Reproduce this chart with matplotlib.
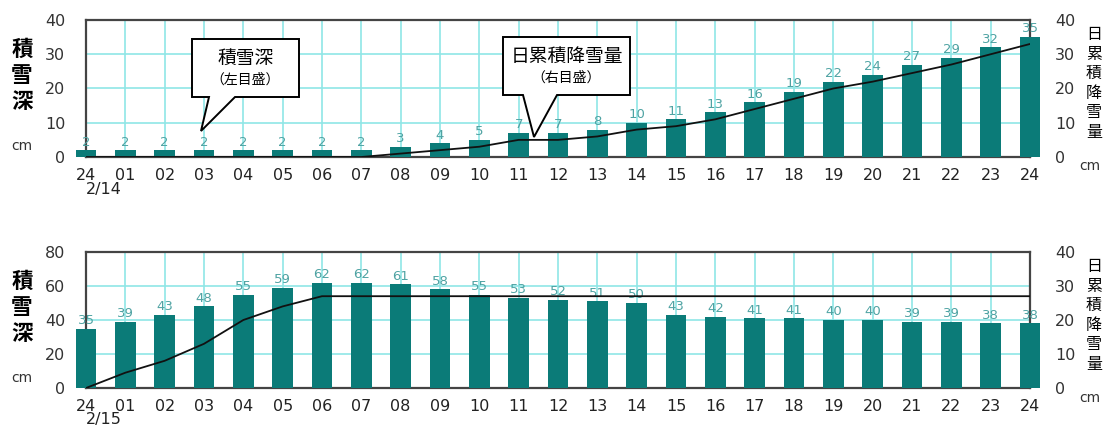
import matplotlib.pyplot as plt
from matplotlib.patches import Polygon
import numpy as np

plt.rcParams['font.family'] = ['DejaVu Sans']
JP = ['Noto Sans CJK JP', 'DejaVu Sans']

# hours shown on the x axis
hours = ['24', '01', '02', '03', '04', '05', '06', '07', '08', '09', '10', '11', '12',
         '13', '14', '15', '16', '17', '18', '19', '20', '21', '22', '23', '24']

# 2/14 snow depth (cm, left scale) and daily cumulative snowfall (cm, right scale)
depth_14 = [2, 2, 2, 2, 2, 2, 2, 2, 3, 4, 5, 7, 7, 8, 10, 11, 13, 16, 19, 22, 24, 27, 29, 32, 35]
snowfall_14 = [0, 0, 0, 0, 0, 0, 0, 0, 1, 2, 3, 5, 5, 6, 8, 9, 11, 14, 17, 20, 22, 24.5, 27, 30, 33]

# 2/15
depth_15 = [35, 39, 43, 48, 55, 59, 62, 62, 61, 58, 55, 53, 52, 51, 50, 43, 42, 41, 41, 40, 40, 39, 39, 38, 38]
snowfall_15 = [0, 4.5, 8, 13, 20, 24, 27, 27, 27, 27, 27, 27, 27, 27, 27, 27, 27, 27, 27, 27, 27, 27, 27, 27, 27]

dates = ['2/14', '2/15']
left_max = [40, 80]
right_max = [40, 40]

BAR = '#0b7b78'
LABEL = '#4fa3a3'
GRID = '#8fe6e6'
SPINE = '#444444'
TXT = '#333333'

W, H = 1104, 429
fig = plt.figure(figsize=(W / 100, H / 100), dpi=100)

# axes boxes in pixels: left, top, right, bottom
boxes = [(86, 20, 1030, 157), (86, 252, 1030, 388)]

x = np.arange(len(hours))
for k, (depth, snow) in enumerate([(depth_14, snowfall_14), (depth_15, snowfall_15)]):
    l, t, r, b = boxes[k]
    ax = fig.add_axes([l / W, 1 - b / H, (r - l) / W, (b - t) / H])
    ax.set_xlim(0, len(hours) - 1)
    ax.set_ylim(0, left_max[k])
    ax.set_yticks(np.linspace(0, left_max[k], 5))
    ax.set_xticks(x)
    ax.set_xticklabels(hours, fontsize=11.5, color='#222222')
    ax.tick_params(axis='both', length=0, labelsize=11.5, labelcolor=TXT)
    ax.tick_params(axis='y', pad=15)
    ax.tick_params(axis='x', pad=8, labelcolor='#222222')
    ax.grid(True, color=GRID, lw=1.2, zorder=0)
    ax.set_axisbelow(True)
    for s in ax.spines.values():
        s.set_color(SPINE)
        s.set_linewidth(1.6)

    ax.bar(x, depth, width=0.52, color=BAR, zorder=3, clip_on=False)
    for xi, d in zip(x, depth):
        ax.text(xi, d + left_max[k] * 0.012, str(d), ha='center', va='bottom',
                fontsize=9.5, color=LABEL, zorder=4)

    ax.text(0, -0.18, dates[k], transform=ax.get_xaxis_transform(), ha='left',
            va='top', fontsize=11.5, color='#222222')

    ax2 = ax.twinx()
    ax2.set_ylim(0, right_max[k])
    ax2.set_yticks(np.linspace(0, right_max[k], 5))
    ax2.tick_params(axis='y', length=0, labelsize=11.5, labelcolor=TXT, pad=18)
    for s in ax2.spines.values():
        s.set_visible(False)
    ax2.plot(x, snow, color='#111111', lw=1.3, zorder=5)

    # axis titles
    for i, ch in enumerate('積雪深'):
        fig.text(22 / W, 1 - (t + 29 + i * 26) / H, ch, fontsize=15.5,
                 fontweight='bold', family=JP, ha='center', va='center')
    fig.text(22 / W, 1 - (t + 126) / H, 'cm', fontsize=10, color=TXT,
             ha='center', va='center')
    for i, ch in enumerate('日累積降雪量'):
        fig.text(1094 / W, 1 - (t + 15 + i * 19.4) / H, ch, fontsize=11.5,
                 family=JP, ha='center', va='center')
    fig.text(1090 / W, 1 - (t + 146) / H, 'cm', fontsize=10, color=TXT,
             ha='center', va='center')

# callouts drawn in pixel coordinates on an overlay
ov = fig.add_axes([0, 0, 1, 1], zorder=10)
ov.set_xlim(0, W)
ov.set_ylim(H, 0)
ov.axis('off')

callouts = [
    dict(box=(192, 39, 299, 97), tail=(209, 235), tip=(201, 131), t1='積雪深', t2='（左目盛）'),
    dict(box=(503, 37, 630, 95), tail=(523, 557), tip=(534, 137), t1='日累積降雪量', t2='（右目盛）'),
]
for c in callouts:
    l, t, r, b = c['box']
    pts = [(l, t), (r, t), (r, b), (c['tail'][1], b), c['tip'], (c['tail'][0], b), (l, b)]
    ov.add_patch(Polygon(pts, closed=True, facecolor='white', edgecolor='black', lw=1.4))
    ov.text((l + r) / 2, t + 19, c['t1'], family=JP, fontsize=13.5, ha='center', va='center')
    ov.text((l + r) / 2, t + 41, c['t2'], family=JP, fontsize=10, ha='center', va='center')

fig.savefig('out.png', dpi=100)
